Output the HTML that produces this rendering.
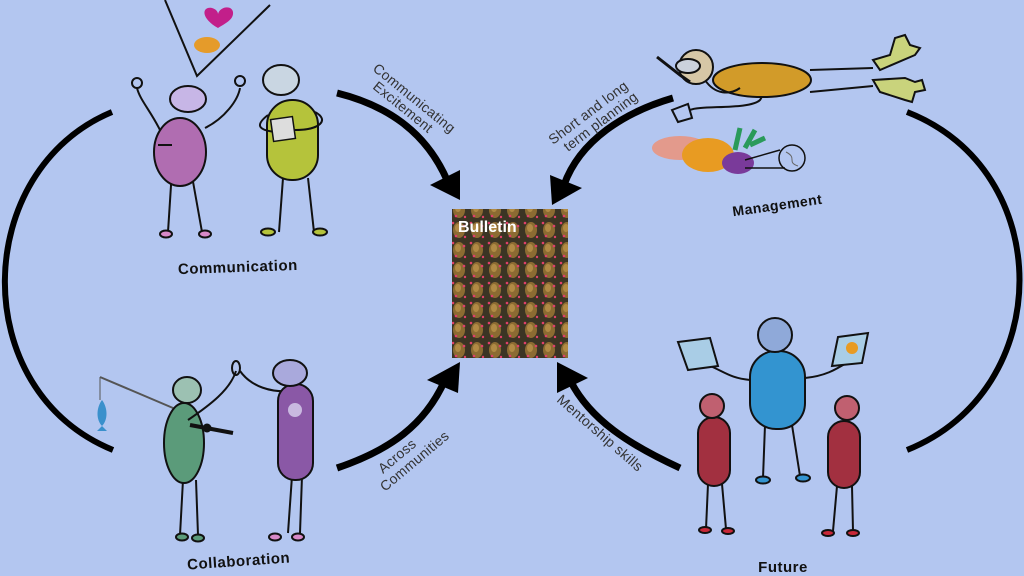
<!DOCTYPE html>
<html><head><meta charset="utf-8"><style>
html,body{margin:0;padding:0;background:#b3c6f0;}
svg{display:block}
text{font-family:"Liberation Sans",sans-serif;}
</style></head><body>
<svg width="1024" height="576" viewBox="0 0 1024 576" xmlns="http://www.w3.org/2000/svg">
<defs>
<pattern id="coral" width="18" height="20" patternUnits="userSpaceOnUse">
<rect width="18" height="20" fill="#3b3424"/>
<ellipse cx="9" cy="10" rx="6" ry="8" fill="#8c6b32"/>
<ellipse cx="8" cy="8" rx="3" ry="4" fill="#b08a45"/>
<circle cx="3" cy="3" r="1.3" fill="#e0406a"/>
<circle cx="14" cy="6" r="1.3" fill="#e0406a"/>
<circle cx="6" cy="16" r="1.3" fill="#e0406a"/>
<circle cx="15" cy="17" r="1.2" fill="#e0406a"/>
</pattern>
</defs>
<rect width="1024" height="576" fill="#b3c6f0"/>

<path d="M112,112 C-28,170 -34,390 113,450" fill="none" stroke="#000" stroke-width="6"/>
<path d="M907,112 C1057,170 1057,390 907,450" fill="none" stroke="#000" stroke-width="6"/>

<g fill="#000">
<path d="M337,93 C385,105 425,130 447,180" fill="none" stroke="#000" stroke-width="7"/>
<polygon points="430,185 460,170 460,200"/>
<path d="M673,98 C625,112 580,140 564,185" fill="none" stroke="#000" stroke-width="7"/>
<polygon points="550,175 582,188 552,205"/>
<path d="M337,468 C390,450 425,425 445,380" fill="none" stroke="#000" stroke-width="7"/>
<polygon points="427,380 458,393 460,362"/>
<path d="M680,468 C630,445 590,420 570,380" fill="none" stroke="#000" stroke-width="7"/>
<polygon points="557,393 588,378 557,362"/>
</g>

<g font-size="14" fill="#333" letter-spacing="0.3">
<text transform="translate(372,70) rotate(39)">Communicating</text>
<text transform="translate(372,88) rotate(39)">Excitement</text>
<text transform="translate(553,145) rotate(-37)">Short and long</text>
<text transform="translate(568,152) rotate(-37)">term planning</text>
<text transform="translate(383,474) rotate(-40)">Across</text>
<text transform="translate(385,492) rotate(-40)">Communities</text>
<text transform="translate(556,401) rotate(41)">Mentorship skills</text>
</g>

<rect x="452" y="209" width="116" height="149" fill="url(#coral)"/>
<text x="458" y="232" font-size="16" font-weight="bold" fill="#fff">Bulletin</text>

<g font-weight="bold" fill="#111" letter-spacing="0.5">
<text x="238" y="272" font-size="15" text-anchor="middle" transform="rotate(-2 238 272)">Communication</text>
<text x="239" y="566" font-size="15" text-anchor="middle" transform="rotate(-4 239 566)">Collaboration</text>
<text x="778" y="210" font-size="14" text-anchor="middle" transform="rotate(-8 778 210)">Management</text>
<text x="783" y="572" font-size="15" text-anchor="middle">Future</text>
</g>

<g stroke="#111" stroke-width="2" fill="none">
<path d="M165,0 L197,76 L270,5"/>
<path d="M218,28 C200,18 202,6 212,8 C216,9 218,12 218,14 C220,6 232,5 233,12 C234,20 224,24 218,28Z" fill="#c21f8a" stroke="none"/>
<ellipse cx="207" cy="45" rx="13" ry="8" fill="#e59b2a" stroke="none"/>
<path d="M172,170 L168,232 M192,176 L202,232"/>
<path d="M160,130 C150,110 140,100 137,88 M205,128 C225,118 238,100 240,88"/>
<circle cx="137" cy="83" r="5" fill="#b3c6f0"/>
<circle cx="240" cy="81" r="5" fill="#b3c6f0"/>
<ellipse cx="180" cy="152" rx="26" ry="34" fill="#b06db1"/>
<path d="M158,145 L172,145"/>
<ellipse cx="188" cy="99" rx="18" ry="13" fill="#c7b6e6"/>
<ellipse cx="166" cy="234" rx="6" ry="3.5" fill="#d989c8"/>
<ellipse cx="205" cy="234" rx="6" ry="3.5" fill="#d989c8"/>
<path d="M283,178 L279,232 M308,178 L314,232"/>
<rect x="267" y="100" width="51" height="80" rx="25" fill="#b5c33b"/>
<path d="M268,115 C255,125 258,130 275,132 M315,112 C330,120 320,130 295,130"/>
<rect x="272" y="118" width="22" height="22" fill="#ddd" stroke-width="1.5" transform="rotate(-8 283 129)"/>
<ellipse cx="281" cy="80" rx="18" ry="15" fill="#c9d6e2"/>
<ellipse cx="268" cy="232" rx="7" ry="3.5" fill="#b5c33b"/>
<ellipse cx="320" cy="232" rx="7" ry="3.5" fill="#b5c33b"/>
</g>

<g stroke="#111" stroke-width="2" fill="none">
<path d="M100,377 L173,408" stroke="#555"/>
<path d="M100,377 L100,400" stroke="#555" stroke-width="1"/>
<path d="M102,400 C96,408 96,420 102,426 C108,420 108,408 102,400Z M102,426 L97,431 L107,431Z" fill="#3a90cc" stroke="none"/>
<path d="M183,480 L180,535 M196,480 L198,535"/>
<path d="M292,476 L288,533 M302,476 L300,533"/>
<ellipse cx="184" cy="443" rx="20" ry="40" fill="#5b9b7a"/>
<path d="M188,420 C210,405 230,390 236,371 M300,390 C270,395 250,385 240,371"/>
<ellipse cx="236" cy="368" rx="4" ry="7"/>
<path d="M190,425 L233,433" stroke-width="4"/>
<circle cx="207" cy="428" r="3.5" fill="#111"/>
<ellipse cx="187" cy="390" rx="14" ry="13" fill="#9cc1b2"/>
<rect x="278" y="384" width="35" height="96" rx="17" fill="#8a58a6"/>
<circle cx="295" cy="410" r="7" fill="#c9b9e0" stroke="none"/>
<ellipse cx="290" cy="373" rx="17" ry="13" fill="#a9a9dc"/>
<ellipse cx="182" cy="537" rx="6" ry="3.5" fill="#5b9b7a"/>
<ellipse cx="198" cy="538" rx="6" ry="3.5" fill="#5b9b7a"/>
<ellipse cx="275" cy="537" rx="6" ry="3.5" fill="#d989c8"/>
<ellipse cx="298" cy="537" rx="6" ry="3.5" fill="#d989c8"/>
</g>

<g stroke="#111" stroke-width="2" fill="none">
<path d="M810,70 L873,68 M810,92 L873,86"/>
<path d="M873,60 L890,55 L895,38 L905,35 L910,45 L920,48 L915,55 L880,70Z" fill="#c9d37c"/>
<path d="M873,80 L905,78 L915,82 L922,80 L925,90 L915,92 L912,102 L905,100 L880,92Z" fill="#c9d37c"/>
<path d="M718,88 C740,88 770,86 760,100 C750,110 700,105 690,110"/>
<path d="M672,110 L688,104 L692,118 L678,122Z"/>
<ellipse cx="762" cy="80" rx="49" ry="17" fill="#d29b29"/>
<path d="M705,80 C715,95 730,95 740,88"/>
<circle cx="696" cy="67" r="17" fill="#d6c7a6"/>
<ellipse cx="688" cy="66" rx="12" ry="7" fill="#cbd2dc"/>
<path d="M657,57 L680,75 L690,82" stroke-width="3"/>
</g>
<g>
<ellipse cx="680" cy="148" rx="28" ry="12" fill="#e39a8c"/>
<ellipse cx="708" cy="155" rx="26" ry="17" fill="#e89b22"/>
<ellipse cx="738" cy="163" rx="16" ry="11" fill="#7a3a9a"/>
<path d="M735,150 L740,128 M745,148 L755,130 M750,145 L765,138" stroke="#2a9a5a" stroke-width="5" fill="none"/>
<path d="M745,160 L780,150 M745,168 L785,168" stroke="#111" stroke-width="1.5"/>
<circle cx="792" cy="158" r="13" fill="none" stroke="#111" stroke-width="1.5"/>
<path d="M786,152 C798,158 786,162 798,166" stroke="#666" fill="none"/>
</g>

<g stroke="#111" stroke-width="2" fill="none">
<path d="M765,425 L763,478 M792,425 L800,476"/>
<path d="M750,380 C730,378 725,372 708,365 M805,378 C825,376 835,370 848,362"/>
<path d="M678,342 L710,338 L718,366 L688,370Z" fill="#a9cde6"/>
<path d="M838,337 L868,333 L862,363 L832,366Z" fill="#a9cde6"/>
<circle cx="852" cy="348" r="6" fill="#e89b22" stroke="none"/>
<rect x="750" y="351" width="55" height="78" rx="26" fill="#3394d0"/>
<circle cx="775" cy="335" r="17" fill="#8fa9d9"/>
<ellipse cx="763" cy="480" rx="7" ry="3.5" fill="#3394d0"/>
<ellipse cx="803" cy="478" rx="7" ry="3.5" fill="#3394d0"/>
<path d="M708,484 L706,529 M722,484 L726,529"/>
<path d="M837,486 L833,531 M852,486 L853,531"/>
<rect x="698" y="417" width="32" height="69" rx="16" fill="#a23040"/>
<circle cx="712" cy="406" r="12" fill="#c06070"/>
<rect x="828" y="421" width="32" height="67" rx="16" fill="#a23040"/>
<circle cx="847" cy="408" r="12" fill="#c06070"/>
<ellipse cx="705" cy="530" rx="6" ry="3" fill="#c82838"/>
<ellipse cx="728" cy="531" rx="6" ry="3" fill="#c82838"/>
<ellipse cx="828" cy="533" rx="6" ry="3" fill="#c82838"/>
<ellipse cx="853" cy="533" rx="6" ry="3" fill="#c82838"/>
</g>
</svg>
</body></html>
